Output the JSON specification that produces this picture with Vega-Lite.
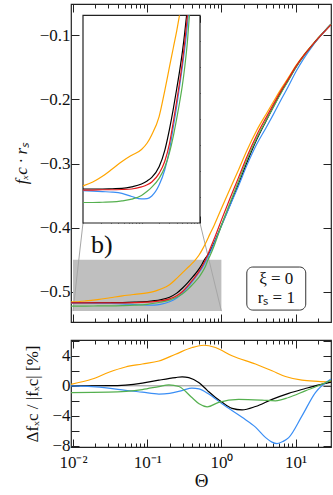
{
  "$schema": "https://vega.github.io/schema/vega-lite/v6.json",
  "background": "white",
  "padding": {"left": 11, "top": 2, "right": 1, "bottom": 3},
  "spacing": 14,
  "config": {
    "font": "Liberation Serif",
    "view": {"stroke": "#222222", "strokeWidth": 1.2},
    "axis": {
      "domain": false, "grid": false, "zindex": 1,
      "tickColor": "#222222", "tickWidth": 1,
      "labelFont": "Liberation Serif", "labelFontSize": 17, "labelColor": "#111111",
      "titleFont": "Liberation Serif", "titleFontSize": 17, "titleColor": "#111111", "titleFontWeight": "normal"
    }
  },
  "datasets": {
    "curves": [
      {"s":"o","t":0.0094,"v":-0.5158},{"s":"o","t":0.01,"v":-0.5157},{"s":"o","t":0.0147,"v":-0.5142},{"s":"o","t":0.0215,"v":-0.5120},{"s":"o","t":0.0316,"v":-0.5092},{"s":"o","t":0.0464,"v":-0.5063},{"s":"o","t":0.0681,"v":-0.5039},{"s":"o","t":0.1,"v":-0.5017},{"s":"o","t":0.125,"v":-0.4992},{"s":"o","t":0.15,"v":-0.4960},{"s":"o","t":0.2,"v":-0.4890},{"s":"o","t":0.25,"v":-0.4790},{"s":"o","t":0.3,"v":-0.4700},{"s":"o","t":0.35,"v":-0.4625},{"s":"o","t":0.4,"v":-0.4560},{"s":"o","t":0.446,"v":-0.4500},{"s":"o","t":0.5,"v":-0.4425},{"s":"o","t":0.55,"v":-0.4345},{"s":"o","t":0.61,"v":-0.4245},{"s":"o","t":0.7,"v":-0.4100},{"s":"o","t":0.8,"v":-0.3960},{"s":"o","t":1.0,"v":-0.3700},{"s":"o","t":1.3,"v":-0.3400},{"s":"o","t":1.7,"v":-0.3100},{"s":"o","t":2.2,"v":-0.2800},{"s":"o","t":3.0,"v":-0.2480},{"s":"o","t":4.0,"v":-0.2230},{"s":"o","t":5.0,"v":-0.2040},{"s":"o","t":6.5,"v":-0.1820},{"s":"o","t":8.0,"v":-0.1660},{"s":"o","t":10,"v":-0.1480},{"s":"o","t":13,"v":-0.1300},{"s":"o","t":16.6,"v":-0.1154},{"s":"o","t":20,"v":-0.1045},{"s":"o","t":25,"v":-0.0925},{"s":"o","t":30,"v":-0.0830},
      {"s":"k","t":0.0094,"v":-0.5169},{"s":"k","t":0.01,"v":-0.5169},{"s":"k","t":0.0147,"v":-0.5169},{"s":"k","t":0.0215,"v":-0.5169},{"s":"k","t":0.0316,"v":-0.5168},{"s":"k","t":0.0464,"v":-0.5167},{"s":"k","t":0.0681,"v":-0.5161},{"s":"k","t":0.1,"v":-0.5150},{"s":"k","t":0.125,"v":-0.5138},{"s":"k","t":0.15,"v":-0.5124},{"s":"k","t":0.2,"v":-0.5083},{"s":"k","t":0.25,"v":-0.5020},{"s":"k","t":0.3,"v":-0.4940},{"s":"k","t":0.35,"v":-0.4860},{"s":"k","t":0.4,"v":-0.4783},{"s":"k","t":0.45,"v":-0.4712},{"s":"k","t":0.5,"v":-0.4641},{"s":"k","t":0.55,"v":-0.4565},{"s":"k","t":0.59,"v":-0.4500},{"s":"k","t":0.7,"v":-0.4376},{"s":"k","t":0.8,"v":-0.4231},{"s":"k","t":1.0,"v":-0.3967},{"s":"k","t":1.3,"v":-0.3650},{"s":"k","t":1.7,"v":-0.3320},{"s":"k","t":2.2,"v":-0.2987},{"s":"k","t":3.0,"v":-0.2622},{"s":"k","t":4.0,"v":-0.2334},{"s":"k","t":5.0,"v":-0.2117},{"s":"k","t":6.5,"v":-0.1871},{"s":"k","t":8.0,"v":-0.1696},{"s":"k","t":10,"v":-0.1503},{"s":"k","t":13,"v":-0.1314},{"s":"k","t":16.6,"v":-0.1163},{"s":"k","t":20,"v":-0.1050},{"s":"k","t":25,"v":-0.0927},{"s":"k","t":30,"v":-0.0830},
      {"s":"b","t":0.0094,"v":-0.5175},{"s":"b","t":0.01,"v":-0.5175},{"s":"b","t":0.0147,"v":-0.5177},{"s":"b","t":0.0215,"v":-0.5179},{"s":"b","t":0.0316,"v":-0.5181},{"s":"b","t":0.0464,"v":-0.5186},{"s":"b","t":0.0681,"v":-0.5198},{"s":"b","t":0.1,"v":-0.5207},{"s":"b","t":0.125,"v":-0.5206},{"s":"b","t":0.15,"v":-0.5196},{"s":"b","t":0.2,"v":-0.5154},{"s":"b","t":0.25,"v":-0.5095},{"s":"b","t":0.3,"v":-0.5020},{"s":"b","t":0.35,"v":-0.4930},{"s":"b","t":0.4,"v":-0.4850},{"s":"b","t":0.45,"v":-0.4770},{"s":"b","t":0.5,"v":-0.4698},{"s":"b","t":0.55,"v":-0.4627},{"s":"b","t":0.61,"v":-0.4535},{"s":"b","t":0.63,"v":-0.4500},{"s":"b","t":0.7,"v":-0.4393},{"s":"b","t":0.8,"v":-0.4244},{"s":"b","t":1.0,"v":-0.3975},{"s":"b","t":1.3,"v":-0.3663},{"s":"b","t":1.7,"v":-0.3348},{"s":"b","t":2.2,"v":-0.3032},{"s":"b","t":3.0,"v":-0.2696},{"s":"b","t":4.0,"v":-0.2442},{"s":"b","t":5.0,"v":-0.2237},{"s":"b","t":6.5,"v":-0.1986},{"s":"b","t":8.0,"v":-0.1795},{"s":"b","t":10,"v":-0.1577},{"s":"b","t":13,"v":-0.1356},{"s":"b","t":16.6,"v":-0.1180},{"s":"b","t":20,"v":-0.1057},{"s":"b","t":25,"v":-0.0925},{"s":"b","t":30,"v":-0.0827},
      {"s":"g","t":0.0094,"v":-0.5221},{"s":"g","t":0.01,"v":-0.5221},{"s":"g","t":0.0147,"v":-0.5221},{"s":"g","t":0.0215,"v":-0.5220},{"s":"g","t":0.0316,"v":-0.5219},{"s":"g","t":0.0464,"v":-0.5215},{"s":"g","t":0.0681,"v":-0.5208},{"s":"g","t":0.1,"v":-0.5194},{"s":"g","t":0.125,"v":-0.5178},{"s":"g","t":0.15,"v":-0.5162},{"s":"g","t":0.2,"v":-0.5128},{"s":"g","t":0.25,"v":-0.5085},{"s":"g","t":0.3,"v":-0.5030},{"s":"g","t":0.35,"v":-0.4965},{"s":"g","t":0.4,"v":-0.4897},{"s":"g","t":0.45,"v":-0.4833},{"s":"g","t":0.5,"v":-0.4769},{"s":"g","t":0.55,"v":-0.4697},{"s":"g","t":0.61,"v":-0.4600},{"s":"g","t":0.66,"v":-0.4500},{"s":"g","t":0.7,"v":-0.4440},{"s":"g","t":0.8,"v":-0.4281},{"s":"g","t":1.0,"v":-0.3965},{"s":"g","t":1.3,"v":-0.3618},{"s":"g","t":1.7,"v":-0.3277},{"s":"g","t":2.2,"v":-0.2948},{"s":"g","t":3.0,"v":-0.2600},{"s":"g","t":4.0,"v":-0.2329},{"s":"g","t":5.0,"v":-0.2123},{"s":"g","t":6.5,"v":-0.1881},{"s":"g","t":8.0,"v":-0.1705},{"s":"g","t":10,"v":-0.1510},{"s":"g","t":13,"v":-0.1318},{"s":"g","t":16.6,"v":-0.1164},{"s":"g","t":20,"v":-0.1051},{"s":"g","t":25,"v":-0.0926},{"s":"g","t":30,"v":-0.0827},
      {"s":"r","t":0.0094,"v":-0.5173},{"s":"r","t":0.01,"v":-0.5173},{"s":"r","t":0.0147,"v":-0.5173},{"s":"r","t":0.0215,"v":-0.5172},{"s":"r","t":0.0316,"v":-0.5172},{"s":"r","t":0.0464,"v":-0.5171},{"s":"r","t":0.0681,"v":-0.5169},{"s":"r","t":0.1,"v":-0.5161},{"s":"r","t":0.125,"v":-0.5153},{"s":"r","t":0.15,"v":-0.5142},{"s":"r","t":0.2,"v":-0.5109},{"s":"r","t":0.25,"v":-0.5062},{"s":"r","t":0.3,"v":-0.4995},{"s":"r","t":0.35,"v":-0.4910},{"s":"r","t":0.4,"v":-0.4830},{"s":"r","t":0.45,"v":-0.4755},{"s":"r","t":0.5,"v":-0.4680},{"s":"r","t":0.55,"v":-0.4600},{"s":"r","t":0.61,"v":-0.4500},{"s":"r","t":0.7,"v":-0.4337},{"s":"r","t":0.8,"v":-0.4173},{"s":"r","t":1.0,"v":-0.3882},{"s":"r","t":1.3,"v":-0.3549},{"s":"r","t":1.7,"v":-0.3219},{"s":"r","t":2.2,"v":-0.2896},{"s":"r","t":3.0,"v":-0.2553},{"s":"r","t":4.0,"v":-0.2284},{"s":"r","t":5.0,"v":-0.2081},{"s":"r","t":6.5,"v":-0.1847},{"s":"r","t":8.0,"v":-0.1679},{"s":"r","t":10,"v":-0.1493},{"s":"r","t":13,"v":-0.1309},{"s":"r","t":16.6,"v":-0.1161},{"s":"r","t":20,"v":-0.1051},{"s":"r","t":25,"v":-0.0930},{"s":"r","t":30,"v":-0.0834}
    ],
    "diff": [
      {"s":"o","t":0.0094,"d":0.2},{"s":"o","t":0.0182,"d":0.9},{"s":"o","t":0.0305,"d":1.8},{"s":"o","t":0.051,"d":2.5},{"s":"o","t":0.086,"d":2.9},{"s":"o","t":0.144,"d":3.3},{"s":"o","t":0.241,"d":4.2},{"s":"o","t":0.404,"d":5.1},{"s":"o","t":0.58,"d":5.4},{"s":"o","t":0.83,"d":5.1},{"s":"o","t":1.39,"d":4.0},{"s":"o","t":2.88,"d":2.9},{"s":"o","t":4.82,"d":2.0},{"s":"o","t":7.3,"d":1.24},{"s":"o","t":12.2,"d":0.75},{"s":"o","t":20,"d":0.6},{"s":"o","t":30,"d":0.52},
      {"s":"k","t":0.0094,"d":0.0},{"s":"k","t":0.03,"d":0.02},{"s":"k","t":0.051,"d":0.1},{"s":"k","t":0.086,"d":0.35},{"s":"k","t":0.144,"d":0.75},{"s":"k","t":0.241,"d":1.1},{"s":"k","t":0.296,"d":1.2},{"s":"k","t":0.364,"d":1.1},{"s":"k","t":0.5,"d":0.4},{"s":"k","t":0.6,"d":-0.3},{"s":"k","t":0.676,"d":-0.8},{"s":"k","t":1.02,"d":-2.2},{"s":"k","t":1.39,"d":-3.0},{"s":"k","t":1.9,"d":-3.2},{"s":"k","t":2.88,"d":-2.76},{"s":"k","t":4.82,"d":-1.8},{"s":"k","t":8.07,"d":-1.0},{"s":"k","t":13.5,"d":-0.36},{"s":"k","t":20,"d":0.1},{"s":"k","t":30,"d":0.5},
      {"s":"b","t":0.0094,"d":0.0},{"s":"b","t":0.018,"d":-0.1},{"s":"b","t":0.03,"d":-0.3},{"s":"b","t":0.051,"d":-0.6},{"s":"b","t":0.086,"d":-0.85},{"s":"b","t":0.144,"d":-1.1},{"s":"b","t":0.2,"d":-1.0},{"s":"b","t":0.3,"d":-0.6},{"s":"b","t":0.4,"d":-0.3},{"s":"b","t":0.5,"d":-0.4},{"s":"b","t":0.676,"d":-1.1},{"s":"b","t":1.02,"d":-2.4},{"s":"b","t":1.9,"d":-4.2},{"s":"b","t":2.88,"d":-5.5},{"s":"b","t":3.95,"d":-6.9},{"s":"b","t":4.8,"d":-7.5},{"s":"b","t":5.62,"d":-7.7},{"s":"b","t":6.8,"d":-7.4},{"s":"b","t":8.07,"d":-6.9},{"s":"b","t":12.2,"d":-4.0},{"s":"b","t":18.5,"d":-0.9},{"s":"b","t":30,"d":0.9},
      {"s":"g","t":0.0094,"d":-0.9},{"s":"g","t":0.03,"d":-0.85},{"s":"g","t":0.086,"d":-0.5},{"s":"g","t":0.144,"d":-0.1},{"s":"g","t":0.196,"d":0.13},{"s":"g","t":0.267,"d":-0.1},{"s":"g","t":0.404,"d":-1.6},{"s":"g","t":0.5,"d":-2.4},{"s":"g","t":0.643,"d":-2.8},{"s":"g","t":0.92,"d":-2.2},{"s":"g","t":1.71,"d":-1.8},{"s":"g","t":3.53,"d":-1.9},{"s":"g","t":5.35,"d":-2.0},{"s":"g","t":8.07,"d":-1.56},{"s":"g","t":13.5,"d":-0.67},{"s":"g","t":22.6,"d":0.2},{"s":"g","t":30,"d":0.75}
    ],
    "zoomrect": [{"x1": 0.01, "x2": 1, "y1": -0.53, "y2": -0.45}],
    "connectors": [{"x1": 0.01364, "y1": -0.3927, "x2": 0.01, "y2": -0.53}, {"x1": 0.5148, "y1": -0.3927, "x2": 1, "y2": -0.53}],
    "panel": [{"t": 0.0175, "v": -0.4395, "txt": "b)"}],
    "parbox": [{"x1": 2.2, "x2": 13.7, "y1": -0.5284, "y2": -0.4613}],
    "partext": [{"t": 5.49, "v": -0.4805, "txt": "ξ = 0"}, {"t": 5.49, "v": -0.5095, "txt": "rₛ = 1"}],
    "zero": [{"t1": 0.0094, "t2": 30, "d": 0}]
  },
  "vconcat": [
    {
      "width": 260,
      "height": 318,
      "layer": [
        {
          "layer": [
            {
              "data": {"name": "zoomrect"},
              "mark": {"type": "rect", "color": "#bfbfbf"},
              "encoding": {
                "x": {"field": "x1", "type": "quantitative", "scale": {"type": "log", "domain": [0.0094, 30], "nice": false}, "axis": {"orient": "top", "labels": false, "title": null, "values": [0.01, 0.1, 1, 10], "tickSize": -8}},
                "x2": {"field": "x2"},
                "y": {"field": "y1", "type": "quantitative", "scale": {"domain": [-0.547, -0.0512], "nice": false, "zero": false}, "axis": {"orient": "right", "labels": false, "title": null, "values": [-0.5, -0.4, -0.3, -0.2, -0.1], "tickSize": -8}},
                "y2": {"field": "y2"}
              }
            },
            {
              "data": {"name": "connectors"},
              "mark": {"type": "rule", "color": "#a6a6a6", "strokeWidth": 1},
              "encoding": {
                "x": {"field": "x1", "type": "quantitative", "axis": {"orient": "bottom", "labels": false, "title": null, "values": [0.02,0.03,0.04,0.05,0.06,0.07,0.08,0.09,0.2,0.3,0.4,0.5,0.6,0.7,0.8,0.9,2,3,4,5,6,7,8,9,20], "tickSize": -4}},
                "x2": {"field": "x2"},
                "y": {"field": "y1", "type": "quantitative", "axis": null},
                "y2": {"field": "y2"}
              }
            },
            {
              "data": {"name": "curves"},
              "mark": {"type": "line", "strokeWidth": 1.2, "interpolate": "monotone"},
              "encoding": {
                "x": {"field": "t", "type": "quantitative", "axis": {"orient": "bottom", "labels": false, "title": null, "values": [0.01, 0.1, 1, 10], "tickSize": -8}},
                "y": {"field": "v", "type": "quantitative", "axis": {"orient": "left", "values": [-0.5, -0.4, -0.3, -0.2, -0.1], "format": ".1f", "tickSize": -8, "labelPadding": 9, "title": "fₓc · rₛ", "titleFontStyle": "italic", "titlePadding": 9}},
                "color": {"field": "s", "type": "nominal", "scale": {"domain": ["o", "k", "b", "g", "r"], "range": ["#ffa500", "#000000", "#3a8ef5", "#55b04f", "#e31a1c"]}, "legend": null}
              }
            },
            {
              "data": {"name": "panel"},
              "mark": {"type": "text", "fontSize": 26, "align": "left", "baseline": "alphabetic", "color": "#111111"},
              "encoding": {
                "x": {"field": "t", "type": "quantitative", "axis": {"orient": "top", "labels": false, "title": null, "values": [0.02,0.03,0.04,0.05,0.06,0.07,0.08,0.09,0.2,0.3,0.4,0.5,0.6,0.7,0.8,0.9,2,3,4,5,6,7,8,9,20], "tickSize": -4}},
                "y": {"field": "v", "type": "quantitative", "axis": null},
                "text": {"field": "txt"}
              }
            },
            {
              "data": {"name": "parbox"},
              "mark": {"type": "rect", "fill": "white", "stroke": "#333333", "strokeWidth": 1, "cornerRadius": 6},
              "encoding": {
                "x": {"field": "x1", "type": "quantitative", "axis": null},
                "x2": {"field": "x2"},
                "y": {"field": "y1", "type": "quantitative", "axis": null},
                "y2": {"field": "y2"}
              }
            },
            {
              "data": {"name": "partext"},
              "mark": {"type": "text", "fontSize": 17, "align": "center", "baseline": "middle", "color": "#111111"},
              "encoding": {
                "x": {"field": "t", "type": "quantitative", "axis": null},
                "y": {"field": "v", "type": "quantitative", "axis": null},
                "text": {"field": "txt"}
              }
            }
          ],
          "resolve": {"axis": {"x": "independent", "y": "independent"}}
        },
        {
          "layer": [
            {
              "data": {"name": "zoomrect"},
              "mark": {"type": "rect", "fill": "white", "stroke": "#222222", "strokeWidth": 1.2},
              "encoding": {
                "x": {"field": "x1", "type": "quantitative", "scale": {"type": "log", "domain": [0.01, 1], "range": [12, 129], "nice": false}, "axis": {"orient": "bottom", "offset": -99, "labels": false, "title": null, "values": [0.01, 0.1, 1], "tickSize": -7}},
                "x2": {"field": "x2"},
                "y": {"field": "y1", "type": "quantitative", "scale": {"domain": [-0.53, -0.45], "range": [219, 11.3], "nice": false, "zero": false}, "axis": {"orient": "left", "offset": -12, "labels": false, "title": null, "values": [-0.52, -0.51, -0.5, -0.49, -0.48, -0.47, -0.46], "tickSize": -7}},
                "y2": {"field": "y2"}
              }
            },
            {
              "data": {"name": "zoomrect"},
              "mark": {"type": "rect", "opacity": 0},
              "encoding": {
                "x": {"field": "x1", "type": "quantitative", "axis": {"orient": "bottom", "offset": -99, "labels": false, "title": null, "values": [0.02,0.03,0.04,0.05,0.06,0.07,0.08,0.09,0.2,0.3,0.4,0.5,0.6,0.7,0.8,0.9], "tickSize": -4}},
                "x2": {"field": "x2"},
                "y": {"field": "y1", "type": "quantitative", "axis": {"orient": "right", "offset": -131, "labels": false, "title": null, "values": [-0.52, -0.51, -0.5, -0.49, -0.48, -0.47, -0.46], "tickSize": -7}},
                "y2": {"field": "y2"}
              }
            },
            {
              "data": {"name": "zoomrect"},
              "mark": {"type": "rect", "opacity": 0},
              "encoding": {
                "x": {"field": "x1", "type": "quantitative", "axis": {"orient": "top", "offset": -11.3, "labels": false, "title": null, "values": [0.02,0.03,0.04,0.05,0.06,0.07,0.08,0.09,0.2,0.3,0.4,0.5,0.6,0.7,0.8,0.9], "tickSize": -4}},
                "x2": {"field": "x2"},
                "y": {"field": "y1", "type": "quantitative", "axis": null},
                "y2": {"field": "y2"}
              }
            },
            {
              "data": {"name": "curves"},
              "transform": [{"filter": "datum.v <= -0.45 && datum.t >= 0.01"}],
              "mark": {"type": "line", "strokeWidth": 1.2, "interpolate": "monotone"},
              "encoding": {
                "x": {"field": "t", "type": "quantitative", "axis": {"orient": "top", "offset": -11.3, "labels": false, "title": null, "values": [0.01, 0.1, 1], "tickSize": -7}},
                "y": {"field": "v", "type": "quantitative", "axis": null},
                "color": {"field": "s", "type": "nominal", "scale": {"domain": ["o", "k", "b", "g", "r"], "range": ["#ffa500", "#000000", "#3a8ef5", "#55b04f", "#e31a1c"]}, "legend": null}
              }
            }
          ],
          "resolve": {"axis": {"x": "independent", "y": "independent"}}
        }
      ],
      "resolve": {"scale": {"x": "independent", "y": "independent"}}
    },
    {
      "width": 260,
      "height": 107,
      "layer": [
        {
          "data": {"name": "zero"},
          "mark": {"type": "rule", "color": "#8c8c8c", "strokeWidth": 1},
          "encoding": {
            "x": {"field": "t1", "type": "quantitative", "scale": {"type": "log", "domain": [0.0094, 30], "nice": false}, "axis": {"orient": "top", "labels": false, "title": null, "values": [0.01, 0.1, 1, 10], "tickSize": -8}},
            "x2": {"field": "t2"},
            "y": {"field": "d", "type": "quantitative", "scale": {"domain": [-8.15, 6.1], "nice": false, "zero": false}, "axis": {"orient": "right", "labels": false, "title": null, "values": [-8, -6, -4, -2, 0, 2, 4, 6], "tickSize": -8}}
          }
        },
        {
          "data": {"name": "zero"},
          "mark": {"type": "rule", "opacity": 0},
          "encoding": {
            "x": {"field": "t1", "type": "quantitative", "axis": {"orient": "top", "labels": false, "title": null, "values": [0.02,0.03,0.04,0.05,0.06,0.07,0.08,0.09,0.2,0.3,0.4,0.5,0.6,0.7,0.8,0.9,2,3,4,5,6,7,8,9,20], "tickSize": -4}},
            "x2": {"field": "t2"},
            "y": {"field": "d", "type": "quantitative", "axis": null}
          }
        },
        {
          "data": {"name": "zero"},
          "mark": {"type": "rule", "opacity": 0},
          "encoding": {
            "x": {"field": "t1", "type": "quantitative", "axis": {"orient": "bottom", "labels": false, "title": null, "values": [0.02,0.03,0.04,0.05,0.06,0.07,0.08,0.09,0.2,0.3,0.4,0.5,0.6,0.7,0.8,0.9,2,3,4,5,6,7,8,9,20], "tickSize": -4}},
            "x2": {"field": "t2"},
            "y": {"field": "d", "type": "quantitative", "axis": null}
          }
        },
        {
          "data": {"name": "diff"},
          "mark": {"type": "line", "strokeWidth": 1.2, "interpolate": "monotone"},
          "encoding": {
            "x": {"field": "t", "type": "quantitative", "axis": {"orient": "bottom", "values": [0.01, 0.1, 1, 10], "labelExpr": "datum.value < 0.05 ? '10⁻²' : datum.value < 0.5 ? '10⁻¹' : datum.value < 5 ? '10⁰' : '10¹'", "tickSize": -8, "labelPadding": 15, "labelFlush": false, "title": "Θ", "titleFontSize": 19, "titlePadding": 1}},
            "y": {"field": "d", "type": "quantitative", "axis": {"orient": "left", "values": [-8, -6, -4, -2, 0, 2, 4, 6], "format": "d", "tickSize": -8, "labelPadding": 9, "title": "Δfₓc / |fₓc| [%]", "titlePadding": 10}},
            "color": {"field": "s", "type": "nominal", "scale": {"domain": ["o", "k", "b", "g"], "range": ["#ffa500", "#000000", "#3a8ef5", "#55b04f"]}, "legend": null}
          }
        }
      ]
    }
  ]
}
